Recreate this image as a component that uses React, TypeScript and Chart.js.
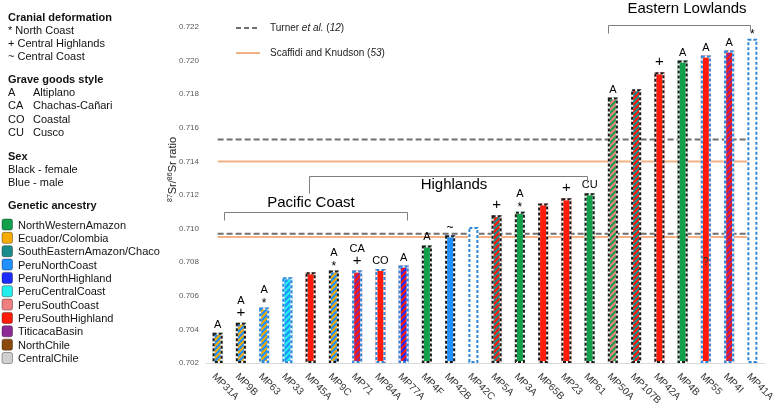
import React, { useEffect, useRef } from "react";
import { Chart, registerables } from "chart.js";

Chart.register(...registerables);

// ---------- data ----------
const samples = ["MP31A", "MP9B", "MP63", "MP33", "MP45A", "MP9C", "MP71", "MP84A", "MP77A", "MP4F", "MP42B", "MP42C", "MP5A", "MP3A", "MP65B", "MP23", "MP61", "MP50A", "MP107B", "MP42A", "MP4B", "MP55", "MP4I", "MP41A"];
const srRatio = [0.7038, 0.7044, 0.7053, 0.7071, 0.7074, 0.7075, 0.7075, 0.7076, 0.7078, 0.7090, 0.7096, 0.7101, 0.7108, 0.7110, 0.7115, 0.7118, 0.7121, 0.7178, 0.7183, 0.7193, 0.7200, 0.7203, 0.7206, 0.7213];
const primaryAncestry = ["ECU", "ECU", "ECU", "PNC", "PSH", "ECU", "TB", "PSH", "PNH", "NWA", "PNC", "", "SEA", "NWA", "PSH", "PSH", "NWA", "NWA", "SEA", "PSH", "NWA", "PSH", "TB", ""];
const secondaryAncestry = ["PNC", "PNC", "PNC", "PCC", "", "PNC", "PSH", "", "PSH", "", "", "", "PSH", "", "", "", "", "PSC", "PSH", "", "", "", "PSH", ""];
const sex = ["F", "F", "M", "M", "F", "F", "M", "M", "M", "F", "F", "M", "F", "F", "F", "F", "F", "F", "F", "F", "F", "M", "M", "M"];
const graveGoods = ["A", "A", "A", "", "", "A", "CA", "CO", "A", "A", "", "", "", "A", "", "", "CU", "A", "", "", "A", "A", "A", ""];
const cranial = ["", "+", "*", "", "", "*", "+", "", "", "", "~", "", "+", "*", "", "+", "", "", "", "+", "", "", "", "*"];
const uncertainNote = ["", "", "", "", "", "", "", "", "", "", "", "", "", "", "", "", "", "", "", "", "", "?", "", ""];

const turnerLow = 0.7097;
const turnerHigh = 0.7153;
const scaffidiLow = 0.7095;
const scaffidiHigh = 0.714;

const yMin = 0.702;
const yMax = 0.722;
const yStep = 0.002;

const ancestryKeys = ["NWA", "ECU", "SEA", "PNC", "PNH", "PCC", "PSC", "PSH", "TB", "NC", "CC"];
const ancestryNames = ["NorthWesternAmazon", "Ecuador/Colombia", "SouthEasternAmazon/Chaco", "PeruNorthCoast", "PeruNorthHighland", "PeruCentralCoast", "PeruSouthCoast", "PeruSouthHighland", "TiticacaBasin", "NorthChile", "CentralChile"];
const ancestryColors = ["#12a04b", "#f5ab00", "#1a8c8c", "#1e90ff", "#1c2bff", "#22eeee", "#f08080", "#ff1a0a", "#8e2a96", "#8b4a0c", "#d0d0d0"];

const cranialLegend = ["* North Coast", "+ Central Highlands", "~ Central Coast"];
const graveCodes = ["A", "CA", "CO", "CU"];
const graveNames = ["Altiplano", "Chachas-Cañari", "Coastal", "Cusco"];
const sexLegend = ["Black - female", "Blue - male"];

const FONT = '"Liberation Sans", Arial, sans-serif';

function colorOf(key: string) {
  const i = ancestryKeys.indexOf(key);
  return i >= 0 ? ancestryColors[i] : "#ffffff";
}

function makePattern(bg: string, fg: string) {
  const c = document.createElement("canvas");
  c.width = 6;
  c.height = 6;
  const x = c.getContext("2d")!;
  x.fillStyle = bg;
  x.fillRect(0, 0, 6, 6);
  x.strokeStyle = fg;
  x.lineWidth = 2.2;
  x.beginPath();
  for (const o of [-6, 0, 6]) {
    x.moveTo(o - 1, 7);
    x.lineTo(o + 7, -1);
  }
  x.stroke();
  return x.createPattern(c, "repeat");
}

function drawSegments(ctx: CanvasRenderingContext2D, x: number, y: number, segs: [string, string, number?][]) {
  let cx = x;
  for (const [t, f, dy] of segs) {
    ctx.font = f;
    ctx.fillText(t, cx, y + (dy || 0));
    cx += ctx.measureText(t).width;
  }
}

const decorPlugin = {
  id: "decor",
  afterDatasetsDraw(chart: any) {
    const ctx: CanvasRenderingContext2D = chart.ctx;
    const meta = chart.getDatasetMeta(0);
    ctx.save();
    meta.data.forEach((el: any, i: number) => {
      const { x, y, base, width } = el.getProps(["x", "y", "base", "width"], true);
      const l = x - width / 2 + 1;
      const r = x + width / 2 - 1;
      const t = y + 1;
      const b = base - 1;
      ctx.lineWidth = 2;
      ctx.setLineDash([]);
      ctx.strokeStyle = "#ffffff";
      ctx.strokeRect(l, t, r - l, b - t);
      ctx.setLineDash([3, 2]);
      ctx.strokeStyle = sex[i] === "F" ? "#1a1a1a" : "#2e86d8";
      ctx.strokeRect(l, t, r - l, b - t);
    });
    ctx.setLineDash([]);
    ctx.restore();
  },
  afterDraw(chart: any) {
    const ctx: CanvasRenderingContext2D = chart.ctx;
    const meta = chart.getDatasetMeta(0);
    const area = chart.chartArea;
    ctx.save();
    ctx.fillStyle = "#000";
    ctx.textBaseline = "alphabetic";

    meta.data.forEach((el: any, i: number) => {
      const { x, y, base } = el.getProps(["x", "y", "base"], true);
      const c = cranial[i];
      const g = graveGoods[i];
      ctx.textAlign = "center";
      if (c) {
        const bl = c === "+" ? y - 6 : c === "*" ? y - 1 : y - 4;
        ctx.font = (c === "+" ? "15px " : "12px ") + FONT;
        ctx.fillText(c, x, bl);
      }
      if (g) {
        const gb = c === "+" ? y - 19 : c === "*" ? y - 15 : c === "~" ? y - 17 : y - 5;
        ctx.font = "11px " + FONT;
        ctx.fillText(g, x, gb);
      }
      if (uncertainNote[i]) {
        ctx.font = "10px " + FONT;
        ctx.fillStyle = "#333";
        ctx.fillText(uncertainNote[i], x, y + (base - y) * 0.68);
        ctx.fillStyle = "#000";
      }
    });

    ctx.font = "10px " + FONT;
    ctx.fillStyle = "#333";
    ctx.textAlign = "left";
    ctx.textBaseline = "middle";
    samples.forEach((s, i) => {
      const x = chart.scales.x.getPixelForValue(i);
      ctx.save();
      ctx.translate(x - 4, area.bottom + 12);
      ctx.rotate(Math.PI / 4);
      ctx.fillText(s, 0, 0);
      ctx.restore();
    });

    ctx.save();
    ctx.fillStyle = "#222";
    ctx.textAlign = "left";
    ctx.textBaseline = "alphabetic";
    ctx.translate(176, 202);
    ctx.rotate(-Math.PI / 2);
    drawSegments(ctx, 0, 0, [
      ["87", "7px " + FONT, -4],
      ["Sr/", "11px " + FONT],
      ["86", "7px " + FONT, -4],
      ["Sr ratio", "11px " + FONT],
    ]);
    ctx.restore();

    ctx.strokeStyle = "#7f7f7f";
    ctx.lineWidth = 1;
    const line = (pts: number[][]) => {
      ctx.beginPath();
      ctx.moveTo(pts[0][0] + 0.5, pts[0][1] + 0.5);
      for (let k = 1; k < pts.length; k++) ctx.lineTo(pts[k][0] + 0.5, pts[k][1] + 0.5);
      ctx.stroke();
    };
    line([[224, 220], [224, 212], [407, 212], [407, 220]]);
    line([[309, 193], [309, 176], [587, 176], [587, 183]]);
    line([[608, 33], [608, 25], [750, 25], [750, 31]]);
    ctx.fillStyle = "#000";
    ctx.font = "15px " + FONT;
    ctx.textAlign = "center";
    ctx.textBaseline = "alphabetic";
    ctx.fillText("Pacific Coast", 311, 207);
    ctx.fillText("Highlands", 454, 189);
    ctx.fillText("Eastern Lowlands", 687, 13);

    ctx.textAlign = "left";
    ctx.textBaseline = "middle";
    ctx.lineWidth = 2;
    ctx.strokeStyle = "#707070";
    ctx.setLineDash([5, 3]);
    ctx.beginPath();
    ctx.moveTo(236, 28);
    ctx.lineTo(260, 28);
    ctx.stroke();
    ctx.setLineDash([]);
    ctx.strokeStyle = "#f4b183";
    ctx.beginPath();
    ctx.moveTo(236, 53);
    ctx.lineTo(260, 53);
    ctx.stroke();
    ctx.fillStyle = "#222";
    drawSegments(ctx, 270, 28, [
      ["Turner ", "10px " + FONT],
      ["et al.", "italic 10px " + FONT],
      [" (", "10px " + FONT],
      ["12", "italic 10px " + FONT],
      [")", "10px " + FONT],
    ]);
    drawSegments(ctx, 270, 53, [
      ["Scaffidi and Knudson (", "10px " + FONT],
      ["53", "italic 10px " + FONT],
      [")", "10px " + FONT],
    ]);

    ctx.textBaseline = "alphabetic";
    ctx.fillStyle = "#111";
    ctx.font = "bold 11px " + FONT;
    ctx.fillText("Cranial deformation", 8, 21);
    ctx.font = "11px " + FONT;
    cranialLegend.forEach((t, k) => ctx.fillText(t, 8, 33.5 + k * 13.3));
    ctx.font = "bold 11px " + FONT;
    ctx.fillText("Grave goods style", 8, 83);
    ctx.font = "11px " + FONT;
    graveCodes.forEach((c, k) => {
      ctx.fillText(c, 8, 96 + k * 13.3);
      ctx.fillText(graveNames[k], 33, 96 + k * 13.3);
    });
    ctx.font = "bold 11px " + FONT;
    ctx.fillText("Sex", 8, 159.5);
    ctx.font = "11px " + FONT;
    sexLegend.forEach((t, k) => ctx.fillText(t, 8, 173 + k * 13.3));
    ctx.font = "bold 11px " + FONT;
    ctx.fillText("Genetic ancestry", 8, 208.5);
    ctx.font = "11px " + FONT;
    ancestryNames.forEach((n, k) => {
      const bl = 228.5 + k * 13.35;
      const top = bl - 9.5;
      ctx.fillStyle = ancestryColors[k];
      ctx.strokeStyle = "rgba(0,0,0,0.35)";
      ctx.lineWidth = 1;
      ctx.beginPath();
      (ctx as any).roundRect(2, top, 10.5, 11, 2);
      ctx.fill();
      ctx.stroke();
      ctx.fillStyle = "#111";
      ctx.fillText(n, 18, bl);
    });
    ctx.restore();
  },
};

export default function App() {
  const ref = useRef<HTMLCanvasElement>(null);
  useEffect(() => {
    const canvas = ref.current!;
    const fills = samples.map((_, i) => {
      const p = primaryAncestry[i];
      const s = secondaryAncestry[i];
      if (!p) return "#ffffff";
      if (!s) return colorOf(p);
      return makePattern(colorOf(p), colorOf(s)) as any;
    });
    const constLine = (v: number) => samples.map(() => v);
    const chart = new Chart(canvas, {
      type: "bar",
      data: {
        labels: samples,
        datasets: [
          {
            type: "bar",
            label: "87Sr/86Sr",
            data: srRatio,
            base: yMin,
            backgroundColor: fills,
            borderWidth: 0,
            barPercentage: 0.43,
            categoryPercentage: 1,
            order: 0,
          } as any,
          {
            type: "line",
            label: "Turner et al. (12) low",
            data: constLine(turnerLow),
            borderColor: "#707070",
            borderDash: [6, 3],
            borderWidth: 2,
            pointRadius: 0,
            order: 1,
          },
          {
            type: "line",
            label: "Turner et al. (12) high",
            data: constLine(turnerHigh),
            borderColor: "#707070",
            borderDash: [6, 3],
            borderWidth: 2,
            pointRadius: 0,
            order: 1,
          },
          {
            type: "line",
            label: "Scaffidi and Knudson (53) low",
            data: constLine(scaffidiLow),
            borderColor: "#f4b183",
            borderWidth: 2,
            pointRadius: 0,
            order: 2,
          },
          {
            type: "line",
            label: "Scaffidi and Knudson (53) high",
            data: constLine(scaffidiHigh),
            borderColor: "#f4b183",
            borderWidth: 2,
            pointRadius: 0,
            order: 2,
          },
        ],
      },
      options: {
        animation: false,
        responsive: false,
        devicePixelRatio: 1,
        layout: { padding: { top: 27, right: 16, bottom: 0, left: 0 } },
        plugins: { legend: { display: false }, tooltip: { enabled: false } },
        scales: {
          x: {
            grid: { display: false },
            ticks: { display: false },
            border: { display: true, color: "#d9d9d9", width: 1 },
            afterFit: (s: any) => {
              s.height = 42;
            },
          },
          y: {
            min: yMin,
            max: yMax,
            grid: { display: false, drawTicks: false },
            border: { display: false },
            ticks: {
              stepSize: yStep,
              padding: 7,
              color: "#595959",
              font: { family: FONT, size: 8 },
              callback: (v: any) => Number(v).toFixed(3),
            },
            afterFit: (s: any) => {
              s.width = 206;
            },
          },
        },
      } as any,
      plugins: [decorPlugin],
    });
    return () => chart.destroy();
  }, []);
  return (
    <div style={{ position: "fixed", left: 0, top: 0, width: 780, height: 405, background: "#fff" }}>
      <canvas ref={ref} width={780} height={405} style={{ display: "block" }} />
    </div>
  );
}
